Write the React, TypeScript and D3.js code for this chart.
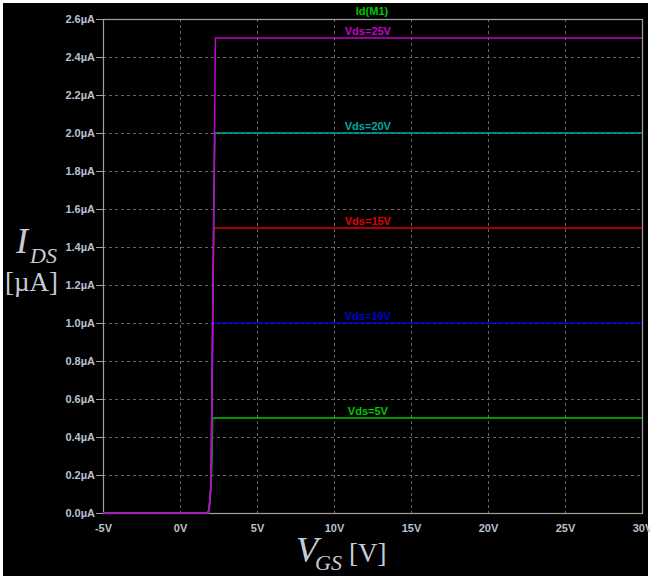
import { useEffect, useRef } from 'react';
import * as d3 from 'd3';

// Id(M1) vs Vgs, one curve per Vds (values in V and µA)
const seriesNames = ['Vds=5V', 'Vds=10V', 'Vds=15V', 'Vds=20V', 'Vds=25V'];
const seriesColors = ['#00c800', '#0000d0', '#e00000', '#00a8a8', '#c800c8'];

const vds5 = [[-5, 0], [1.83, 0], [1.9, 0.03], [1.97, 0.1], [2.02, 0.15], [2.08, 0.3], [2.12, 0.5], [30, 0.5]];
const vds10 = [[-5, 0], [1.83, 0], [1.9, 0.03], [1.97, 0.1], [2.02, 0.15], [2.06, 0.5], [2.12, 0.8], [2.16, 1.0], [30, 1.0]];
const vds15 = [[-5, 0], [1.83, 0], [1.9, 0.03], [1.97, 0.1], [2.02, 0.15], [2.06, 0.5], [2.12, 1.0], [2.2, 1.5], [30, 1.5]];
const vds20 = [[-5, 0], [1.83, 0], [1.9, 0.03], [1.97, 0.1], [2.02, 0.15], [2.06, 0.5], [2.12, 1.0], [2.18, 1.5], [2.26, 2.0], [30, 2.0]];
const vds25 = [[-5, 0], [1.83, 0], [1.9, 0.03], [1.97, 0.1], [2.02, 0.15], [2.06, 0.5], [2.12, 1.0], [2.18, 1.5], [2.24, 2.0], [2.3, 2.5], [30, 2.5]];
const allSeries = [vds5, vds10, vds15, vds20, vds25];

const xTicks = [-5, 0, 5, 10, 15, 20, 25, 30];
const yTicks = [0, 0.2, 0.4, 0.6, 0.8, 1.0, 1.2, 1.4, 1.6, 1.8, 2.0, 2.2, 2.4, 2.6];
const labelVgs = 12.2;

const App = () => {
  const chartRef = useRef<SVGSVGElement>(null);

  useEffect(() => {
    const svg = d3.select(chartRef.current);
    svg.selectAll('*').remove();

    const W = 650, H = 578;
    const left = 103, right = 642, top = 19, bottom = 513;
    const font = '"Liberation Sans", Arial, sans-serif';
    const tickColor = '#b8c2ce';

    // white frame + black plot window
    svg.append('rect').attr('width', W).attr('height', H).attr('fill', '#fff');
    svg.append('rect').attr('x', 3).attr('y', 3).attr('width', W - 5).attr('height', H - 5).attr('fill', '#000');

    const x = d3.scaleLinear().domain([-5, 30]).range([left, right]);
    const y = d3.scaleLinear().domain([0, 2.6]).range([bottom, top]);

    // grid
    const g = svg.append('g');
    g.selectAll('line.vg')
      .data(xTicks.slice(1, -1))
      .enter()
      .append('line')
      .attr('x1', (d) => x(d) + 0.5)
      .attr('x2', (d) => x(d) + 0.5)
      .attr('y1', top)
      .attr('y2', bottom)
      .attr('stroke', '#666')
      .attr('stroke-dasharray', '3,3');
    g.selectAll('line.hg')
      .data(yTicks.slice(1, -1))
      .enter()
      .append('line')
      .attr('x1', left)
      .attr('x2', right)
      .attr('y1', (d) => Math.round(y(d)) + 0.5)
      .attr('y2', (d) => Math.round(y(d)) + 0.5)
      .attr('stroke', '#666')
      .attr('stroke-dasharray', '3,3');

    // frame
    svg
      .append('rect')
      .attr('x', left + 0.5)
      .attr('y', top + 0.5)
      .attr('width', right - left)
      .attr('height', bottom - top)
      .attr('fill', 'none')
      .attr('stroke', '#a0a0a0')
      .attr('stroke-width', 1.2);

    // y axis
    const yAxis = d3
      .axisLeft(y)
      .tickValues(yTicks)
      .tickSize(7)
      .tickPadding(1)
      .tickFormat((d) => `${(+d).toFixed(1)}µA`);
    const ya = svg.append('g').attr('transform', `translate(${left},0)`).call(yAxis);
    ya.select('.domain').remove();
    ya.selectAll('line').attr('stroke', '#a0a0a0');
    ya.selectAll('text').attr('fill', tickColor).style('font', `bold 11px ${font}`);

    // x axis
    const xAxis = d3
      .axisBottom(x)
      .tickValues(xTicks)
      .tickSize(0)
      .tickPadding(11)
      .tickFormat((d) => `${d}V`);
    const xa = svg.append('g').attr('transform', `translate(0,${bottom})`).call(xAxis);
    xa.select('.domain').remove();
    xa.selectAll('text').attr('fill', tickColor).style('font', `bold 11px ${font}`);

    // curves
    const line = d3
      .line<number[]>()
      .x((d) => x(d[0]))
      .y((d) => y(d[1]));
    svg
      .selectAll('path.curve')
      .data(allSeries)
      .enter()
      .append('path')
      .attr('d', (d) => line(d))
      .attr('fill', 'none')
      .attr('stroke', (d, i) => seriesColors[i])
      .attr('stroke-width', 1.5);

    // curve labels
    svg
      .selectAll('text.lbl')
      .data(allSeries)
      .enter()
      .append('text')
      .attr('x', x(labelVgs))
      .attr('y', (d) => y(d[d.length - 1][1]) - 3)
      .attr('text-anchor', 'middle')
      .attr('fill', (d, i) => seriesColors[i])
      .style('font', `bold 11px ${font}`)
      .text((d, i) => seriesNames[i]);

    // title
    svg
      .append('text')
      .attr('x', 372)
      .attr('y', 15)
      .attr('text-anchor', 'middle')
      .attr('fill', '#00c800')
      .style('font', `bold 11px ${font}`)
      .text('Id(M1)');

    // axis titles
    const serif = '"Liberation Serif", "Times New Roman", serif';
    const titleColor = '#c4ccd6';
    const yt = svg.append('text').attr('fill', titleColor).style('font-family', serif);
    yt.append('tspan').attr('x', 16).attr('y', 253).style('font-size', '36px').style('font-style', 'italic').text('I');
    yt.append('tspan').attr('dy', 10).attr('dx', 2).style('font-size', '22px').style('font-style', 'italic').text('DS');
    svg
      .append('text')
      .attr('x', 5)
      .attr('y', 291)
      .attr('fill', titleColor)
      .style('font-family', serif)
      .style('font-size', '27px')
      .text('[µA]');

    const xt = svg.append('text').attr('fill', titleColor).style('font-family', serif);
    xt.append('tspan').attr('x', 296).attr('y', 562).style('font-size', '36px').style('font-style', 'italic').text('V');
    xt.append('tspan').attr('dy', 8).attr('dx', -3).style('font-size', '22px').style('font-style', 'italic').text('GS');
    svg
      .append('text')
      .attr('x', 349)
      .attr('y', 562)
      .attr('fill', titleColor)
      .style('font-family', serif)
      .style('font-size', '27px')
      .text('[V]');

    return () => {
      d3.select(chartRef.current).selectAll('*').remove();
    };
  }, []);

  return (
    <div style={{ position: 'absolute', left: 0, top: 0 }}>
      <svg ref={chartRef} width={650} height={578} style={{ display: 'block' }}></svg>
    </div>
  );
};

export default App;
